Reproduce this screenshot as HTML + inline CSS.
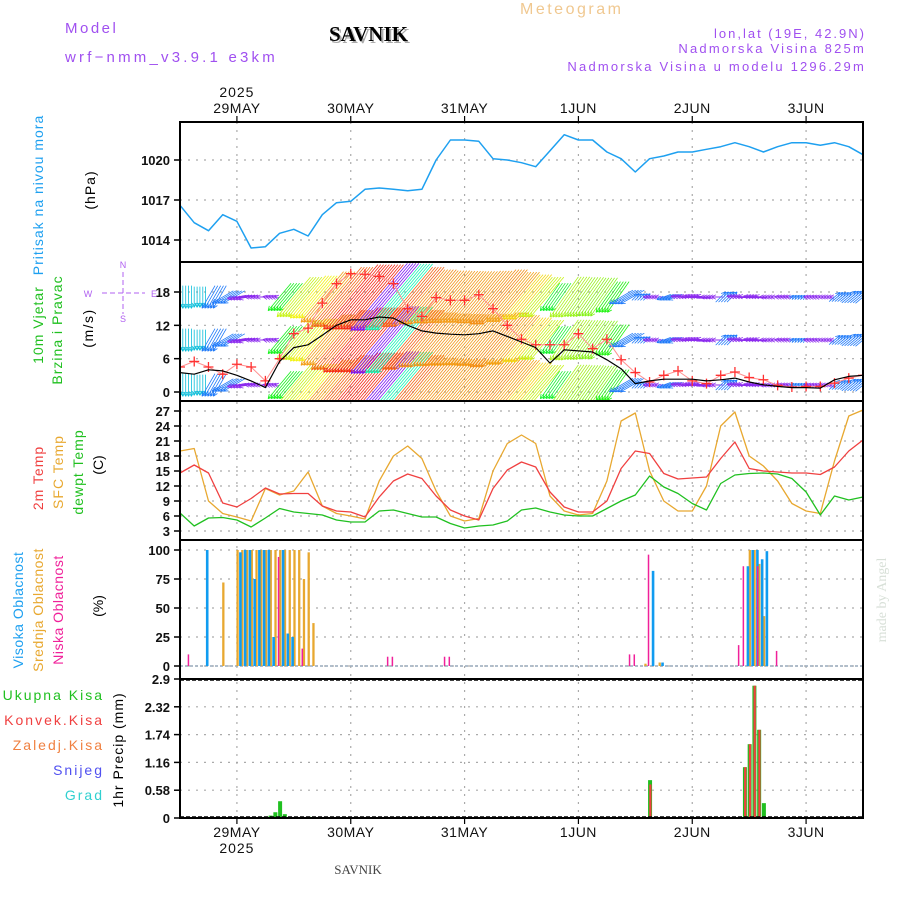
<!DOCTYPE html>
<html><head><meta charset="utf-8"><style>
html,body{margin:0;padding:0;background:#fff;}
svg{display:block;font-family:"Liberation Sans",sans-serif;}
.tk{font-size:13px;font-weight:bold;fill:#111;text-anchor:end;}
.grid{stroke:#aaa;stroke-width:1.2;stroke-dasharray:2,6;}
.vl{font-size:14px;}
</style></head><body>
<svg id="chart" width="900" height="900" viewBox="0 0 900 900" xmlns="http://www.w3.org/2000/svg">
<rect width="900" height="900" fill="#fff"/>
<defs><clipPath id="clipW"><rect x="180" y="263" width="683" height="137"/></clipPath></defs>

<text x="65" y="33" font-size="15" fill="#a050f0" letter-spacing="2.5">Model</text>
<text x="65" y="62" font-size="15" fill="#a050f0" letter-spacing="3.2">wrf−nmm_v3.9.1 e3km</text>
<text x="331" y="43" font-size="21" font-weight="bold" font-family="Liberation Serif,serif" fill="#aaa">SAVNIK</text>
<text x="329" y="41" font-size="21" font-weight="bold" font-family="Liberation Serif,serif" fill="#000">SAVNIK</text>
<text x="520" y="14" font-size="16" fill="#f0c890" letter-spacing="2.5">Meteogram</text>
<text x="866" y="38" font-size="13" fill="#a050f0" text-anchor="end" letter-spacing="2">lon,lat (19E, 42.9N)</text>
<text x="866" y="53" font-size="13" fill="#a050f0" text-anchor="end" letter-spacing="2.2">Nadmorska Visina 825m</text>
<text x="866" y="71" font-size="13" fill="#a050f0" text-anchor="end" letter-spacing="2.2">Nadmorska Visina u modelu 1296.29m</text>

<g id="axes"></g>
<g id="plots"></g>

<text transform="translate(43,195) rotate(-90)" text-anchor="middle" class="vl" fill="#1ea0f0" letter-spacing="1">Pritisak na nivou mora</text>
<text transform="translate(95,190) rotate(-90)" text-anchor="middle" class="vl" fill="#000" letter-spacing="1">(hPa)</text>
<text transform="translate(43,325) rotate(-90)" text-anchor="middle" class="vl" fill="#20c020" letter-spacing="1">10m Vjetar</text>
<text transform="translate(62,330) rotate(-90)" text-anchor="middle" class="vl" fill="#20c020" letter-spacing="1">Brzina i Pravac</text>
<text transform="translate(93,328) rotate(-90)" text-anchor="middle" class="vl" fill="#000" letter-spacing="1.5">(m/s)</text>
<g fill="#b060f0" font-size="9" text-anchor="middle">
<text x="123" y="268">N</text><text x="123" y="322">S</text><text x="88" y="297">W</text><text x="154" y="297">E</text>
<line x1="102" y1="293" x2="145" y2="293" stroke="#b060f0" stroke-dasharray="5,3"/>
<line x1="123" y1="272" x2="123" y2="314" stroke="#b060f0" stroke-dasharray="5,3"/></g>
<text transform="translate(43,478) rotate(-90)" text-anchor="middle" class="vl" fill="#f04040" letter-spacing="1">2m Temp</text>
<text transform="translate(63,472) rotate(-90)" text-anchor="middle" class="vl" fill="#e8a830" letter-spacing="1">SFC Temp</text>
<text transform="translate(83,472) rotate(-90)" text-anchor="middle" class="vl" fill="#20c020" letter-spacing="1">dewpt Temp</text>
<text transform="translate(103,465) rotate(-90)" text-anchor="middle" class="vl" fill="#000">(C)</text>
<text transform="translate(23,610) rotate(-90)" text-anchor="middle" class="vl" fill="#1ea0f0" letter-spacing="0.5">Visoka Oblacnost</text>
<text transform="translate(43,610) rotate(-90)" text-anchor="middle" class="vl" fill="#e8a830" letter-spacing="0.5">Srednja Oblacnost</text>
<text transform="translate(63,610) rotate(-90)" text-anchor="middle" class="vl" fill="#f0209a" letter-spacing="0.5">Niska Oblacnost</text>
<text transform="translate(103,606) rotate(-90)" text-anchor="middle" class="vl" fill="#000">(%)</text>
<g font-size="14" text-anchor="end" letter-spacing="2">
<text x="104" y="700" fill="#20c020">Ukupna  Kisa</text>
<text x="104" y="725" fill="#f04040">Konvek.Kisa</text>
<text x="104" y="750" fill="#f08040">Zaledj.Kisa</text>
<text x="104" y="775" fill="#5050f0">Snijeg</text>
<text x="104" y="800" fill="#30d0d0">Grad</text></g>
<text transform="translate(123,750) rotate(-90)" text-anchor="middle" class="vl" fill="#000" letter-spacing="1">1hr Precip (mm)</text>
<text x="358" y="874" font-size="13" text-anchor="middle" font-family="Liberation Serif,serif" fill="#444">SAVNIK</text>
<text transform="translate(886,600) rotate(-90)" text-anchor="middle" font-size="14" font-family="Liberation Serif,serif" fill="#d8e0d8">made by Angel</text>
</svg>
<script>
const dayLabels = ["29MAY","30MAY","31MAY","1JUN","2JUN","3JUN"];
const pressure = [1016.6,1015.3,1014.7,1015.9,1015.4,1013.4,1013.5,1014.5,1014.8,1014.3,1015.9,1016.8,1016.9,1017.8,1017.9,1017.8,1017.7,1017.8,1020.0,1021.5,1021.5,1021.4,1020.1,1020.0,1019.8,1019.5,1020.7,1021.9,1021.5,1021.5,1020.6,1020.1,1019.1,1020.1,1020.3,1020.6,1020.6,1020.8,1021.0,1021.3,1021.0,1020.6,1021.0,1021.3,1021.3,1021.1,1021.3,1021.0,1020.4];
const temp2m = [14.6,16.2,14.6,8.6,7.8,9.5,11.6,10.4,10.5,10.5,8,7,6.8,5.8,9.8,13,14.4,13.5,10,7.2,6,5.2,11.5,15.2,16.8,15.8,10.8,7.8,6.8,6.8,9,15.5,19,18.5,14.5,13.4,13.6,13.8,17.5,20.8,15.5,15,14.8,14.6,14.6,14.3,15.8,19,21.2];
const tempSfc = [19,19.5,9,6.5,5.8,5,11.5,10.2,11,14.8,8,6.5,6,5.4,13,18,20,17.5,11,6,5,5.5,15,20.5,22.2,20.5,10,7,6.2,6.5,13,25,26.6,15,9,7,7,12,24,26.8,18,16,13,8.5,7,6.5,17,26,27.2];
const dewpt = [6.6,4.0,5.6,5.7,5.2,3.8,5.6,7.5,6.8,6.5,6.2,5.2,4.8,4.8,7.0,7.2,6.5,5.8,5.8,4.5,3.6,4.0,4.2,5.0,7.2,7.6,6.8,6.2,6.0,6.0,7.5,9.0,10.2,14.0,11.8,10.5,8.5,7.2,12.5,14.2,14.5,14.6,14.4,13.5,10.8,6.2,10.0,9.2,9.8];
const windSpeed = [3.5,3.2,4.0,3.8,3.0,2.0,0.8,5.5,8,8.5,10.2,12,13,13,13.5,13.3,12,11,10.6,10.4,10.3,10.5,11,10,9,8,5.2,7.6,7.4,7.2,5.8,4.2,1.5,2,2.3,2.3,2.3,2.0,2.2,2.5,1.8,1.3,1.0,0.8,0.8,0.7,2.2,2.8,3];
const windGust = [4.5,5.5,4.5,3.2,5,4.5,2,6,10.5,11.5,16,19.5,21.3,21.2,20.8,19.5,15,13.6,17,16.5,16.5,17.5,15,12,9.5,8.5,8.5,8.5,10.5,7.8,9.5,5.8,3.5,1.8,3,3.8,2,1.5,3,3.6,2.6,2.2,1.2,0.9,1,1,1.6,2.5,3];
const windDir = [0,0,30,60,80,90,100,40,40,40,40,40,40,40,40,40,40,40,40,40,40,40,40,40,40,40,35,35,35,35,35,60,225,90,70,95,100,90,225,95,100,90,95,225,95,90,230,230,230];
const highHours = [5,12,13,14,15,16,17,18,19,21,22,23,99,101,119,120,121,122,123];
const highVals  = [100,98,100,100,75,100,100,100,25,100,28,25,82,3,86,100,100,92,99];
const midHours = [9,12,13,14,15,16,17,18,19,20,21,22,23,24,25,26,27,28,98,101,120,121,122,123];
const midVals  = [72,100,100,100,100,100,100,100,100,100,100,100,100,100,100,75,98,37,2,3,100,100,88,43];
const lowHours = [2,21,26,44,45,56,57,95,96,99,118,119,122,126];
const lowVals  = [10,94,15,8,8,8,8,10,10,96,18,86,86,13];
const totalHours = [19,20,21,22,27,99,119,120,121,122,123];
const totalVals  = [0.05,0.12,0.35,0.08,0.03,0.79,1.06,1.54,2.76,1.84,0.31];
const convHours = [27,99,119,120,121,122];
const convVals  = [0.03,0.7,1.06,1.54,2.76,1.84];
const pTicks = [1014,1017,1020];
const wTicks = [0,6,12,18];
const tTicks = [3,6,9,12,15,18,21,24,27];
const cTicks = [0,25,50,75,100];
const rTicks = ["0","0.58","1.16","1.74","2.32","2.9"];

const NS="http://www.w3.org/2000/svg";
const X0=180,X1=863,PXH=(X1-X0)/144;
const xh=h=>X0+h*PXH, x3=i=>xh(i*3);
const lin=(v0,y0,v1,y1)=>v=>y0+(v-v0)*(y1-y0)/(v1-v0);
const yP=lin(1014,240,1020,160), yW=lin(0,392,18,292), yT=lin(3,531,27,411), yC=lin(0,666,100,550), yR=lin(0,818,2.9,679);
const axes=document.getElementById('axes'), plots=document.getElementById('plots');
function mk(tag,attrs,parent){const e=document.createElementNS(NS,tag);for(const k in attrs)e.setAttribute(k,attrs[k]);(parent||plots).appendChild(e);return e;}

const panels=[[122,262,'pressure-panel'],[262,401,'wind-panel'],[401,540,'temperature-panel'],[540,679,'cloud-panel'],[679,818,'precip-panel']];
function hgrid(ticks,yf,name,labels){ticks.forEach((t,i)=>{const y=yf(+t);
 if(y>125&&y<816){const g=mk('line',{x1:X0,x2:X1,y1:y,y2:y,class:'grid'},axes);}
 const tk=mk('line',{x1:174,x2:X0,y1:y,y2:y,stroke:'#000','stroke-width':1.5},axes);
 const tx=mk('text',{x:170,y:y+5,class:'tk'},axes);tx.textContent=labels?labels[i]:t;});}
hgrid(pTicks,yP,'pressure');hgrid(wTicks,yW,'wind');hgrid(tTicks,yT,'temp');hgrid(cTicks,yC,'cloud');hgrid(rTicks,yR,'precip',rTicks);
dayLabels.forEach((d,i)=>{const x=xh(12+24*i);
 const g=mk('line',{x1:x,x2:x,y1:122,y2:818,class:'grid'},axes);
 const t1=mk('text',{x:x,y:113,'font-size':14,'text-anchor':'middle',fill:'#111','letter-spacing':0.5},axes);t1.textContent=d;
 const t2=mk('text',{x:x,y:837,'font-size':14,'text-anchor':'middle',fill:'#111','letter-spacing':0.5},axes);t2.textContent=d;
 [[116,122],[818,824]].forEach(([a,b])=>{const tk=mk('line',{x1:x,x2:x,y1:a,y2:b,stroke:'#000','stroke-width':1.2},axes);});});
[[97,'top-year-label'],[853,'bottom-year-label']].forEach(([y,n])=>{const t=mk('text',{x:xh(12),y:y,'font-size':14,'text-anchor':'middle',fill:'#111','letter-spacing':1},axes);t.textContent='2025';});

function line(arr,yf,color,w,name,parent){const pts=arr.map((v,i)=>x3(i).toFixed(1)+','+yf(v).toFixed(1)).join(' ');
 const p=mk('polyline',{points:pts,fill:'none',stroke:color,'stroke-width':w,'stroke-linejoin':'round'},parent);return p;}
line(pressure,yP,'#1ea0f0',1.5,'pressure-line');

const wg=mk('g',{'clip-path':'url(#clipW)'});
function wcol(s,d){ if(s>=5){const stops=[[5,130],[7,95],[8.5,60],[10,38],[11.5,30],[13,5],[13.6,320]];let h=130;
  for(let k=0;k<stops.length-1;k++){if(s>=stops[k][0]&&s<=stops[k+1][0]){const f=(s-stops[k][0])/(stops[k+1][0]-stops[k][0]);h=stops[k][1]+f*(stops[k+1][1]-stops[k][1]);}}
  if(s>13.6)h=320;if(h<0)h+=360;return 'hsl('+h+',90%,52%)';}
 if(d>=180)return 'hsl(215,95%,55%)'; if(d<20)return 'hsl(188,90%,45%)'; if(d<75)return 'hsl(215,95%,55%)'; return 'hsl(270,85%,55%)';}
const rows=[297,340,385];
windSpeed.forEach((s,i)=>{const d=windDir[i]*Math.PI/180,L=6.5*s;const dx=-Math.sin(d)*L,dy=Math.cos(d)*L;const c=wcol(s,windDir[i]);
 for(let k=0;k<5;k++){const x=x3(i)+k*3*PXH/5;if(x>X1+2)break;
  rows.forEach(yb=>{const x2=x+dx/2,y2=yb+dy/2,a=Math.atan2(dy,dx);
   let dpath='M'+(x-dx/2).toFixed(1)+','+(yb-dy/2).toFixed(1)+'L'+x2.toFixed(1)+','+y2.toFixed(1);
   [1,-1].forEach(o=>{dpath+='M'+x2.toFixed(1)+','+y2.toFixed(1)+'l'+(-5*Math.cos(a+o*0.45)).toFixed(1)+','+(-5*Math.sin(a+o*0.45)).toFixed(1);});
   const p=mk('path',{d:dpath,stroke:c,'stroke-width':0.8,fill:'none'},wg);});}});
const wl=mk('g',{'clip-path':'url(#clipW)'});
line(windGust,yW,'#ff9090',1,'gust-line',wl);
windGust.forEach((g,i)=>{const x=x3(i),y=yW(g);const p=mk('path',{d:'M'+(x-5)+','+y+'h10M'+x+','+(y-5)+'v10',stroke:'#ff3030','stroke-width':1.3},wl);});
line(windSpeed,yW,'#000',1.2,'wind-speed-line',wl);

line(tempSfc,yT,'#e8a830',1.3,'sfc-temp-line');
line(temp2m,yT,'#f04040',1.3,'temp-2m-line');
line(dewpt,yT,'#20c020',1.3,'dewpt-line');

const cb=mk('line',{x1:X0,x2:X1,y1:yC(0),y2:yC(0),stroke:'#9ab',"stroke-width":1.5,'stroke-dasharray':'3,2'});
function bars(hours,vals,yf,color,off,w,name){hours.forEach((h,i)=>{const y=yf(vals[i]),y0=yf(0);
 const r=mk('rect',{x:xh(h)+off,y:y,width:w,height:Math.max(0,y0-y),fill:color});});}
bars(midHours,midVals,yC,'#e8a830',-0.5,2.3,'mid-cloud-bar');
bars(highHours,highVals,yC,'#109cf0',2.2,2.6,'high-cloud-bar');
bars(lowHours,lowVals,yC,'#f0209a',-1.8,1.5,'low-cloud-bar');
bars(totalHours,totalVals,yR,'#20c020',-1.5,4,'total-precip-bar');
bars(convHours,convVals,yR,'#f04040',-0.3,2.2,'conv-precip-bar');
const rb=mk('line',{x1:X0,x2:X1,y1:817,y2:817,stroke:'#000','stroke-width':1.5,'stroke-dasharray':'4,2'});
const rt=mk('line',{x1:X0,x2:X1,y1:680,y2:680,stroke:'#000','stroke-width':1.5,'stroke-dasharray':'4,2'});

panels.forEach(([a,b,n])=>{const r=mk('rect',{x:X0,y:a,width:X1-X0,height:b-a,fill:'none',stroke:'#000','stroke-width':2});});
</script>
</body></html>
